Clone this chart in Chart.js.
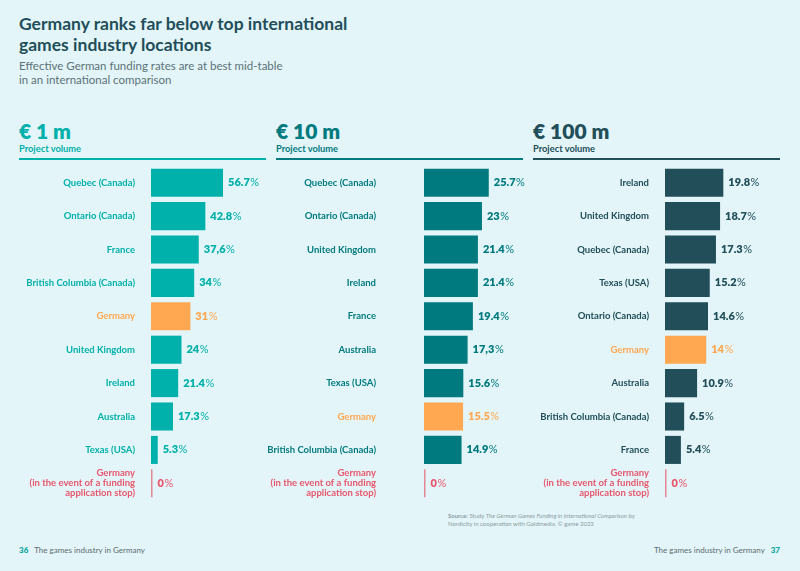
<!DOCTYPE html>
<html>
<head>
<meta charset="utf-8">
<script src="https://cdn.jsdelivr.net/npm/chart.js@4"></script>
<style>
  body { margin:0; width:800px; height:571px; background:#e3f5f8; position:relative; overflow:hidden; font-family:Lato, sans-serif; }
  .abs { position:absolute; white-space:nowrap; }
  #title { left:19px; top:13px; font-size:17.5px; font-weight:700; color:#1f4e5a; line-height:21px; }
  #subtitle { left:19px; top:59px; font-size:11.5px; color:#5b7278; line-height:13.5px; }
  .head { font-size:21px; font-weight:800; line-height:22px; }
  .sub { font-size:9.3px; font-weight:700; }
  .rule { position:absolute; height:2.5px; top:157.5px; width:247px; }
  canvas { position:absolute; }
  #source { left:448px; top:512px; font-size:6px; color:#8a9ba0; line-height:7.5px; }
  .foot { top:545px; font-size:8px; color:#5b6b70; }
  .pg { font-weight:800; color:#16a8a3; }
</style>
</head>
<body>
<div id="title" class="abs">Germany ranks far below top international<br>games industry locations</div>
<div id="subtitle" class="abs">Effective German funding rates are at best mid-table<br>in an international comparison</div>

<div class="abs head" style="left:19px;top:120px;color:#00b0ab">€ 1 m</div>
<div class="abs sub" style="left:19px;top:143px;color:#00b0ab">Project volume</div>
<div class="rule" style="left:19px;background:#00b0ab"></div>

<div class="abs head" style="left:276px;top:120px;color:#007a7e">€ 10 m</div>
<div class="abs sub" style="left:276px;top:143px;color:#007a7e">Project volume</div>
<div class="rule" style="left:276px;background:#007a7e"></div>

<div class="abs head" style="left:533px;top:120px;color:#214e59">€ 100 m</div>
<div class="abs sub" style="left:533px;top:143px;color:#214e59">Project volume</div>
<div class="rule" style="left:533px;background:#214e59"></div>

<canvas id="chart1" style="left:0px;top:166px;width:270px;height:334px"></canvas>
<canvas id="chart2" style="left:250px;top:166px;width:290px;height:334px"></canvas>
<canvas id="chart3" style="left:520px;top:166px;width:280px;height:334px"></canvas>

<div id="source" class="abs"><b>Source:</b> Study <i>The German Games Funding in International Comparison</i> by<br>Nordicity in cooperation with Goldmedia. © game 2023</div>
<div class="abs foot" style="left:19px"><span class="pg">36</span>&nbsp;&nbsp;&nbsp;The games industry in Germany</div>
<div class="abs foot" style="right:20px">The games industry in Germany&nbsp;&nbsp;&nbsp;<span class="pg">37</span></div>

<script>
//--------------------------- Dữ liệu ---------------------------//
var STOP = ['Germany', '(in the event of a funding', 'application stop)'];

var vol1Labels = ['Quebec (Canada)', 'Ontario (Canada)', 'France', 'British Columbia (Canada)', 'Germany', 'United Kingdom', 'Ireland', 'Australia', 'Texas (USA)', STOP];
var vol1Values = [56.7, 42.8, 37.6, 34, 31, 24, 21.4, 17.3, 5.3, 0];
var vol1Text   = ['56.7', '42.8', '37,6', '34', '31', '24', '21.4', '17.3', '5.3', '0'];

var vol10Labels = ['Quebec (Canada)', 'Ontario (Canada)', 'United Kingdom', 'Ireland', 'France', 'Australia', 'Texas (USA)', 'Germany', 'British Columbia (Canada)', STOP];
var vol10Values = [25.7, 23, 21.4, 21.4, 19.4, 17.3, 15.6, 15.5, 14.9, 0];
var vol10Text   = ['25.7', '23', '21.4', '21.4', '19.4', '17,3', '15.6', '15.5', '14.9', '0'];

var vol100Labels = ['Ireland', 'United Kingdom', 'Quebec (Canada)', 'Texas (USA)', 'Ontario (Canada)', 'Germany', 'Australia', 'British Columbia (Canada)', 'France', STOP];
var vol100Values = [19.8, 18.7, 17.3, 15.2, 14.6, 14, 10.9, 6.5, 5.4, 0];
var vol100Text   = ['19.8', '18.7', '17.3', '15.2', '14.6', '14', '10.9', '6.5', '5.4', '0'];

var ORANGE = '#ffa751';
var RED_TEXT = '#e8566c';
var RED_BAR = '#e68796';

//Màu cho từng hàng
function rowColor(label, base, isBar) {
  if (label === 'Germany') return ORANGE;
  if (Array.isArray(label)) return isBar ? RED_BAR : RED_TEXT;
  return base;
}

//Plugin vẽ nhãn giá trị: số đậm + dấu % thường
var valueLabels = {
  id: 'valueLabels',
  afterDatasetsDraw(chart) {
    var ctx = chart.ctx;
    var meta = chart.getDatasetMeta(0);
    var texts = chart.options.plugins.valueLabels.texts;
    var base = chart.options.plugins.valueLabels.color;
    var labels = chart.data.labels;
    ctx.save();
    ctx.textBaseline = 'middle';
    meta.data.forEach(function (bar, i) {
      var x = Math.max(bar.x, bar.base + 1.5) + 5;
      var col = rowColor(labels[i], base, false);
      ctx.fillStyle = col;
      ctx.font = '800 11px Lato';
      ctx.fillText(texts[i], x, bar.y);
      var w = ctx.measureText(texts[i]).width;
      ctx.font = '400 11px Lato';
      ctx.fillText('%', x + w + 0.5, bar.y);
    });
    ctx.restore();
  }
};

function buildChart(id, labels, values, texts, color, yWidth, xMax, labelGap) {
  new Chart(id, {
    type: 'bar',
    data: {
      labels: labels,
      datasets: [{
        data: values,
        backgroundColor: labels.map(function (l) { return rowColor(l, color, true); }),
        borderWidth: 0,
        minBarLength: 1.5,
        categoryPercentage: 1,
        barPercentage: 0.84
      }]
    },
    options: {
      indexAxis: 'y',
      responsive: false,
      maintainAspectRatio: false,
      animation: false,
      layout: { padding: 0 },
      plugins: {
        legend: { display: false },
        tooltip: { enabled: false },
        valueLabels: { texts: texts, color: color }
      },
      scales: {
        x: { display: false, min: 0, max: xMax },
        y: {
          //cố định độ rộng trục và bỏ padding trên/dưới
          afterFit: function (scale) {
            scale.width = yWidth;
            scale.paddingTop = 0;
            scale.paddingBottom = 0;
          },
          grid: { display: false, drawTicks: false },
          border: { display: false },
          ticks: {
            padding: labelGap,
            autoSkip: false,
            font: { family: 'Lato', size: 9.5, weight: '700', lineHeight: 1.05 },
            color: function (c) { return rowColor(labels[c.index], color, false); }
          }
        }
      }
    },
    plugins: [valueLabels]
  });
}

function sizeCanvas(id, w, h) {
  var c = document.getElementById(id);
  c.width = w; c.height = h;
}
sizeCanvas('chart1', 270, 334);
sizeCanvas('chart2', 290, 334);
sizeCanvas('chart3', 280, 334);

//Tỉ lệ px/% khác nhau cho từng bảng
buildChart('chart1', vol1Labels, vol1Values, vol1Text, '#00b0ab', 151, 119 / 1.27, 16);
buildChart('chart2', vol10Labels, vol10Values, vol10Text, '#007a7e', 174, 116 / 2.52, 48);
buildChart('chart3', vol100Labels, vol100Values, vol100Text, '#214e59', 145, 135 / 2.945, 16);
</script>
</body>
</html>
